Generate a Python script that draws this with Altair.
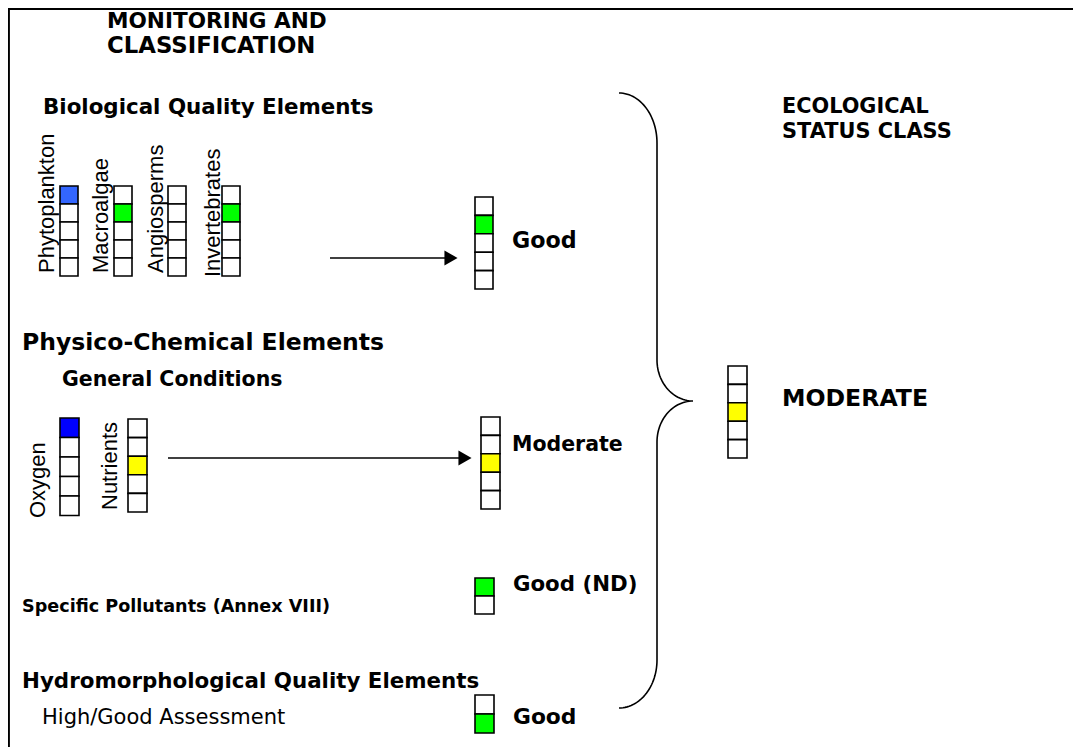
import altair as alt
import pandas as pd
import numpy as np

# ---------------- data ----------------
element_names = ["Phytoplankton", "Macroalgae", "Angiosperms", "Invertebrates",
                 "BQE result", "Oxygen", "Nutrients", "GC result",
                 "Specific Pollutants", "Hydromorphology", "Ecological status"]
n_classes = [5, 5, 5, 5, 5, 5, 5, 5, 2, 2, 5]
status_index = [0, 1, None, 1, 1, 0, 2, 2, 0, 1, 2]   # filled cell (0 = top)
status_color = ["#3366FF", "#00FF00", None, "#00FF00", "#00FF00",
                "#0000FF", "#FFFF00", "#FFFF00", "#00FF00", "#00FF00", "#FFFF00"]
rotated_labels = ["Phytoplankton", "Macroalgae", "Angiosperms", "Invertebrates", "Oxygen", "Nutrients"]
result_labels = ["Good", "Moderate", "Good (ND)", "Good", "MODERATE"]
heading_labels = ["MONITORING AND", "CLASSIFICATION", "ECOLOGICAL", "STATUS CLASS",
                  "Biological Quality Elements", "Physico-Chemical Elements",
                  "Hydromorphological Quality Elements", "General Conditions",
                  "Specific Pollutants (Annex VIII)"]
note_labels = ["High/Good Assessment"]

# ---------------- layout (pixel positions / sizes in the picture) ----------------
col_layout = {  # x0, y0 (top), cell w, cell h
    "Phytoplankton": (60, 186, 18, 18),
    "Macroalgae": (114, 186, 18, 18),
    "Angiosperms": (168, 186, 18, 18),
    "Invertebrates": (222, 186, 18, 18),
    "BQE result": (475, 197, 18, 18.4),
    "Oxygen": (60, 418, 19, 19.5),
    "Nutrients": (128, 419, 19, 18.6),
    "GC result": (481, 417, 19, 18.4),
    "Specific Pollutants": (475, 578, 19, 18),
    "Hydromorphology": (475, 695, 19, 19),
    "Ecological status": (728, 366, 19, 18.4),
}
rot_pos = {"Phytoplankton": (46.5, 273), "Macroalgae": (101, 273), "Angiosperms": (155.5, 273),
           "Invertebrates": (213, 277), "Oxygen": (37.5, 518), "Nutrients": (110, 510)}
res_pos = [(512, 241, 22.2), (512, 445, 20.5), (513, 585, 21.3), (513, 717, 21.8), (782, 399, 23.6)]
head_pos = [(107, 22, 21.6), (107, 46, 22.8), (782, 107, 20.8), (782, 132, 20.9),
            (43, 108, 21.4), (22, 343, 23.5), (22, 682, 21.4), (62, 380, 20.5), (22, 607, 17.6)]
note_pos = [(42, 718, 21.0)]

cells = []
for name, n, si, colr in zip(element_names, n_classes, status_index, status_color):
    x0, y0, w, h = col_layout[name]
    for i in range(n):
        cells.append(dict(x=x0, x2=x0 + w, y=y0 + i * h, y2=y0 + (i + 1) * h,
                          fill=(colr if si == i else "#FFFFFF")))
cells = pd.DataFrame(cells)

X = alt.Scale(domain=[8, 1073], nice=False, zero=False)
Y = alt.Scale(domain=[8, 747], nice=False, zero=False, reverse=True)

def xe(f): return alt.X(f, type="quantitative", scale=X, axis=None)
def ye(f): return alt.Y(f, type="quantitative", scale=Y, axis=None)

rects = alt.Chart(cells).mark_rect(stroke="black", strokeWidth=1.6).encode(
    x=xe("x"), x2="x2", y=ye("y"), y2="y2",
    fill=alt.Fill("fill:N", scale=None))

def texts(labels, pos, bold=True, angle=0, font="DejaVu Sans"):
    df = pd.DataFrame([(p[0], p[1], p[2], t) for p, t in zip(pos, labels)],
                      columns=["x", "y", "s", "t"])
    return alt.Chart(df).mark_text(font=font, fontWeight="bold" if bold else "normal",
                                   angle=angle, align="left", baseline="middle", color="black").encode(
        x=xe("x"), y=ye("y"), text="t:N", size=alt.Size("s:Q", scale=None, legend=None))

headings = texts(heading_labels, head_pos)
notes = texts(note_labels, note_pos, bold=False)
results = texts(result_labels, res_pos)
rot = texts(rotated_labels, [(rot_pos[k][0], rot_pos[k][1], 22) for k in rotated_labels],
            bold=False, angle=270, font="Liberation Sans")

# arrows
arrows = pd.DataFrame({"x": [330, 168], "x2": [446, 460], "y": [258, 458]})
arrow_lines = alt.Chart(arrows).mark_rule(color="black", strokeWidth=1.5).encode(
    x=xe("x"), x2="x2", y=ye("y"))
heads = pd.DataFrame({"x": [451, 465], "y": [258, 458]})
arrow_heads = alt.Chart(heads).mark_point(shape="triangle-right", filled=True, color="black",
                                          size=230, opacity=1).encode(x=xe("x"), y=ye("y"))

# brace
def arc(cx, cy, rx, ry, fx, fy, n=30):
    t = np.linspace(0, np.pi / 2, n)
    return list(cx + rx * fx(t)), list(cy + ry * fy(t))
bx, by = [], []
for cx, cy, rx, ry, fx, fy in [
    (619, 143, 38, 50, np.sin, lambda t: -np.cos(t)),
    (693, 360, 36, 41, lambda t: -np.cos(t), np.sin),
    (693, 442, 36, 41, lambda t: -np.sin(t), lambda t: -np.cos(t)),
    (619, 660, 38, 48, np.cos, np.sin),
]:
    a, b = arc(cx, cy, rx, ry, fx, fy)
    bx += a; by += b
brace = pd.DataFrame({"x": bx, "y": by, "o": range(len(bx))})
brace_line = alt.Chart(brace).mark_line(color="black", strokeWidth=1.6).encode(
    x=xe("x"), y=ye("y"), order="o:Q")

frame = pd.DataFrame({"x": [8.8, 8.8, 1073], "y": [747, 8.8, 8.8], "o": [0, 1, 2]})
frame_line = alt.Chart(frame).mark_line(color="black", strokeWidth=2.2).encode(
    x=xe("x"), y=ye("y"), order="o:Q")

chart = alt.layer(frame_line, rects, headings, notes, results, rot,
                  arrow_lines, arrow_heads, brace_line).properties(
    width=1065, height=739, padding=0, autosize=alt.AutoSizeParams(type="none")
).configure_view(stroke=None).configure(background="white")

chart.save("out.html", embed_options={"renderer": "svg", "actions": False})
